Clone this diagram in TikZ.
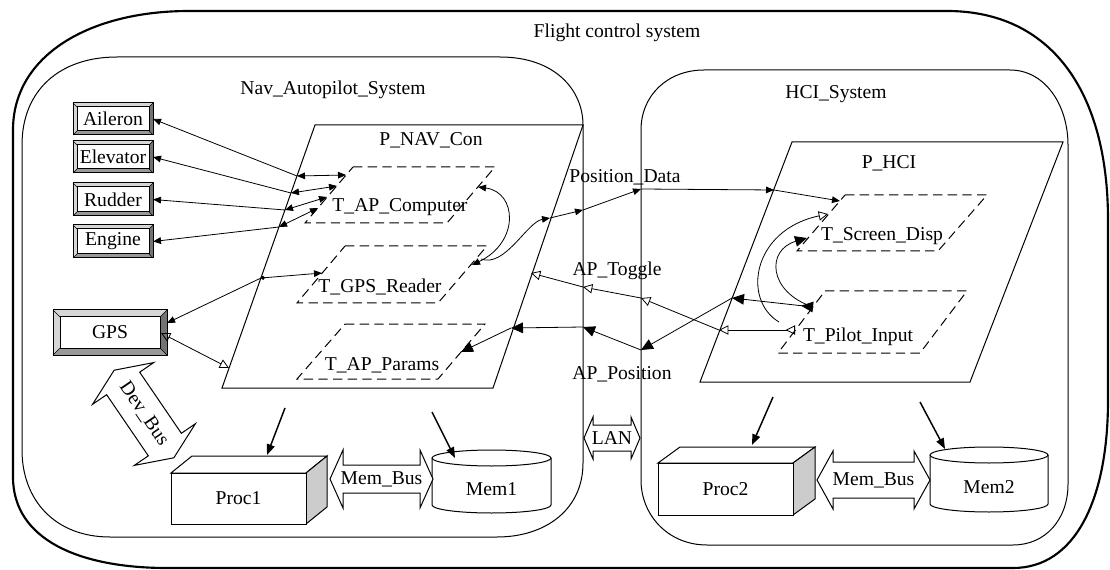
\documentclass[tikz,border=0pt]{standalone}
\usepackage{fontspec}
\setmainfont{Liberation Serif}
\newfontfamily\tnr{Liberation Serif}
\usetikzlibrary{arrows.meta}
\definecolor{devlight}{gray}{0.84}
\definecolor{devmid}{gray}{0.6}
\definecolor{devdark}{gray}{0.45}
\definecolor{procside}{gray}{0.8}
\tikzset{
  dtip/.tip={Triangle[length=6pt,width=5pt]},
  otip/.tip={Triangle[open,length=7pt,width=7pt]},
  btip/.tip={Triangle[length=9pt,width=8pt]},
  ptip/.tip={Triangle[length=8pt,width=6pt]},
}
% device (bevelled box)
\newcommand\devbox[7]{%
  \fill[devlight] (#2,#3) rectangle (#4,#5);
  \fill[devdark] (#4,#3) -- (#4,#5) -- (#4-#6,#5-#6) -- (#4-#6,#3+#6) -- cycle;
  \fill[devmid] (#2,#5) -- (#4,#5) -- (#4-#6,#5-#6) -- (#2+#6,#5-#6) -- cycle;
  \draw[boxline] (#2,#3) rectangle (#4,#5);
  \draw[boxline,fill=white] (#2+#6,#3+#6) rectangle (#4-#6,#5-#6);
  \draw[thinline] (#2,#3) -- (#2+#6,#3+#6) (#4,#3) -- (#4-#6,#3+#6)
                  (#2,#5) -- (#2+#6,#5-#6) (#4,#5) -- (#4-#6,#5-#6);
  \node[lbl,minimum width={(#4-#2)*0.75pt},minimum height={(#5-#3)*0.75pt}]
     (#1) at ({(#2+#4)/2},{(#3+#5)/2}) {#7};
}
% processor (3D box)
\newcommand\procbox[8]{%
  \draw[boxline,fill=white] (#2,#3) -- (#2+#6,#3-#7) -- (#4+#6,#3-#7) -- (#4,#3) -- cycle;
  \draw[boxline,fill=procside] (#4,#3) -- (#4+#6,#3-#7) -- (#4+#6,#5-#7) -- (#4,#5) -- cycle;
  \node[lbl,draw,boxline,fill=white,minimum width={(#4-#2)*0.75pt},minimum height={(#5-#3)*0.75pt}]
     (#1) at ({(#2+#4)/2},{(#3+#5)/2}) {#8};
}
% memory (cylinder)
\newcommand\memcyl[7]{%
  \draw[boxline,fill=white] (#2,#3) -- (#2,#5)
     arc[start angle=180,end angle=0,x radius={(#4-#2)/2},y radius=#6] -- (#4,#3);
  \draw[boxline,fill=white] ({(#2+#4)/2},#3) ellipse[x radius={(#4-#2)/2},y radius=#6];
  \node[lbl] (#1) at ({(#2+#4)/2},{(#3+#5)/2+#6}) {#7};
}
% bus (hollow double block arrow)
\newcommand\blockarrow[7]{%
  \draw[boxline,fill=white,shift={(#1,#2)},rotate=#3]
   ({-#4/2},0) -- ({-#4/2+#7},{-#5/2}) -- ({-#4/2+#7},{-#6/2}) -- ({#4/2-#7},{-#6/2})
   -- ({#4/2-#7},{-#5/2}) -- ({#4/2},0) -- ({#4/2-#7},{#5/2}) -- ({#4/2-#7},{#6/2})
   -- ({-#4/2+#7},{#6/2}) -- ({-#4/2+#7},{#5/2}) -- cycle;
}
\begin{document}
\begin{tikzpicture}[x=0.75pt,y=-0.75pt,
  lbl/.style={font=\tnr\fontsize{14.7}{17}\selectfont,inner sep=0pt,outer sep=0pt},
  boxline/.style={line width=0.75pt},
  thinline/.style={line width=0.5pt},
  outerline/.style={line width=1.6pt},
  taskbox/.style={line width=0.75pt,dash pattern=on 7pt off 4pt},
  conn/.style={line width=0.6pt},
  dataarr/.style={conn,-dtip},
  databoth/.style={conn,dtip-dtip},
  evarr/.style={conn,-otip},
  edarr/.style={conn,-btip},
  bindarr/.style={line width=1.1pt,-ptip},
]
\useasboundingbox (0,0) rectangle (1110,570);

% ---------- outer system ----------
\draw[outerline,fill=white] (189,11) -- (947,11) .. controls (1050,11) and (1108,90) .. (1108,220)
  -- (1108,400) .. controls (1108,500) and (1075,568) .. (1013,568) -- (167,568)
  .. controls (80,568) and (13,540) .. (13,477) -- (13,130)
  .. controls (13,55) and (90,11) .. (189,11) -- cycle;
\node[lbl] (fcs) at (617,33) {Flight control system};

% ---------- Nav_Autopilot_System ----------
\draw[boxline] (117,57) -- (500,57) .. controls (555,57) and (583,90) .. (583,125)
  -- (583,463) .. controls (583,510) and (545,537) .. (497,537) -- (110,537)
  .. controls (55,537) and (22,500) .. (22,450) -- (22,145)
  .. controls (22,90) and (60,57) .. (117,57) -- cycle;
\node[lbl] (navsys) at (333,90) {Nav\_Autopilot\_System};

% ---------- HCI_System ----------
\draw[boxline] (704,70) -- (1010,70) .. controls (1045,70) and (1068,105) .. (1068,145)
  -- (1068,484) .. controls (1068,520) and (1045,545) .. (1013,545) -- (707,545)
  .. controls (668,545) and (641,515) .. (641,480) -- (641,130)
  .. controls (641,95) and (668,70) .. (704,70) -- cycle;
\node[lbl] (hcisys) at (836,94) {HCI\_System};

% ---------- processes ----------
\draw[boxline,fill=white] (315,125) -- (583,125) -- (493,388) -- (222,388) -- cycle;
\node[lbl] (pnav) at (431,140) {P\_NAV\_Con};
\draw[boxline,fill=white] (792,142) -- (1063,142) -- (970,382) -- (700,382) -- cycle;
\node[lbl] (phci) at (889,163) {P\_HCI};

% ---------- threads ----------
\draw[taskbox] (353,167) -- (495,167) -- (447,223) -- (305,223) -- cycle;
\node[lbl] (tap) at (400,207) {T\_AP\_Computer};
\draw[taskbox] (345,246) -- (487,246) -- (438,303) -- (297,303) -- cycle;
\node[lbl] (tgps) at (380,287) {T\_GPS\_Reader};
\draw[taskbox] (345,324) -- (485,324) -- (438,379) -- (297,379) -- cycle;
\node[lbl] (tapp) at (382,365) {T\_AP\_Params};
\draw[taskbox] (845,195) -- (987,195) -- (938,251) -- (797,251) -- cycle;
\node[lbl] (tsd) at (882,236) {T\_Screen\_Disp};
\draw[taskbox] (825,291) -- (967,291) -- (920,353) -- (778,353) -- cycle;
\node[lbl] (tpi) at (858,337) {T\_Pilot\_Input};

% ---------- devices ----------
\devbox{ail}{73}{103}{153}{135}{4}{Aileron}
\devbox{elev}{73}{141}{153}{173}{4}{Elevator}
\devbox{rud}{73}{183}{153}{216}{4}{Rudder}
\devbox{eng}{73}{225}{153}{258}{4}{Engine}
\devbox{gps}{53}{310}{167}{355}{7}{GPS}

% ---------- hardware ----------
\procbox{proc1}{171}{473}{306}{524}{21}{17}{Proc1}
\procbox{proc2}{658}{463}{793}{515}{22}{16}{Proc2}
\memcyl{mem1}{432}{458}{551}{505}{8}{Mem1}
\memcyl{mem2}{930}{455}{1048}{504}{8}{Mem2}

% ---------- buses ----------
\blockarrow{144}{414}{-55.7}{106}{74}{40}{16}
\node[lbl,rotate=-55.7] (devbus) at (144,414) {Dev\_Bus};
\blockarrow{381.5}{479}{0}{103}{58}{28}{13}
\node[lbl] (membus1) at (381.5,479) {Mem\_Bus};
\blockarrow{873.5}{480}{0}{113}{58}{36}{16}
\node[lbl] (membus2) at (873.5,480) {Mem\_Bus};
\blockarrow{612}{438}{0}{56}{42}{26}{9}
\node[lbl] (lan) at (612,438) {LAN};

% ---------- ports ----------
\coordinate (pA) at (297,176);  \coordinate (tA) at (346,175);
\coordinate (pE) at (291,193);  \coordinate (tE) at (337,186);
\coordinate (pR) at (285,210);  \coordinate (tR) at (327,197);
\coordinate (pEn) at (279,227); \coordinate (tEn) at (318,208);
\coordinate (pG) at (261,278);  \coordinate (tGl) at (322,273);
\coordinate (pGe) at (229,368);
\coordinate (gpsA) at (167,323); \coordinate (gpsB) at (161,333);
\coordinate (tAr) at (478,187); \coordinate (tGr) at (472,265); \coordinate (tGr2) at (481,259);
\coordinate (pnR1) at (550,218); \coordinate (navR1) at (583,210);
\coordinate (hciL1) at (641,189); \coordinate (phL1) at (774,190); \coordinate (tSl1) at (840,201);
\coordinate (tPl1) at (795,330); \coordinate (phL2) at (719,330);
\coordinate (hciL2) at (641,298); \coordinate (navR2) at (583,287); \coordinate (pnR2) at (531,273);
\coordinate (tPl2) at (813,307); \coordinate (phL3) at (732,298);
\coordinate (hciL3) at (641,350); \coordinate (navR3) at (583,327);
\coordinate (pnR3) at (511,328); \coordinate (tPr) at (461,352);
\coordinate (tSl2) at (828,214); \coordinate (tPl3) at (779,322); \coordinate (tSl3) at (807,238);

% ---------- connections: actuators ----------
\draw[databoth] (tA) -- (pA);   \draw[dataarr] (pA) -- (ail.east);
\draw[databoth] (tE) -- (pE);   \draw[dataarr] (pE) -- (elev.east);
\draw[databoth] (tR) -- (pR);   \draw[dataarr] (pR) -- (rud.east);
\draw[databoth] (tEn) -- (pEn); \draw[dataarr] (pEn) -- (eng.east);

% GPS
\draw[conn,{Circle[length=3pt]}-dtip] (pG) -- (tGl);
\draw[dataarr] (pG) -- (gpsA);
\draw[conn,otip-otip] (gpsB) -- (pGe);

% internal NAV
\draw[databoth] (tAr) .. controls (517,192) and (520,242) .. (tGr);

% Position_Data
\draw[dataarr] (tGr2) .. controls (505,268) and (527,222) .. (pnR1);
\draw[dataarr] (pnR1) -- (navR1);
\draw[dataarr] (navR1) -- (hciL1);
\draw[dataarr] (hciL1) -- (phL1);
\draw[dataarr] (phL1) -- (tSl1);
\node[lbl] (posdata) at (625,177) {Position\_Data};

% AP_Toggle
\draw[conn,{Triangle[open,reversed,length=7pt,width=7pt]}-otip] (tPl1) -- (phL2);
\draw[evarr] (phL2) -- (hciL2);
\draw[evarr] (hciL2) -- (navR2);
\draw[evarr] (navR2) -- (pnR2);
\node[lbl] (aptoggle) at (617,271) {AP\_Toggle};

% AP_Position
\draw[conn,{Triangle[reversed,length=9pt,width=8pt]}-btip] (tPl2) -- (phL3);
\draw[edarr] (phL3) -- (hciL3);
\draw[edarr] (hciL3) -- (navR3);
\draw[edarr] (navR3) -- (pnR3);
\draw[edarr] (pnR3) -- (tPr);
\node[lbl] (apposition) at (622,374) {AP\_Position};

% internal HCI
\draw[conn,otip-] (tSl2) .. controls (752,230) and (742,300) .. (tPl3);
\draw[conn,-btip] (tPl2) .. controls (768,292) and (766,250) .. (tSl3);

% ---------- bindings ----------
\coordinate (b1s) at (285,408); \coordinate (b1e) at (267,455);
\coordinate (b2s) at (432,412); \coordinate (b2e) at (455,458);
\coordinate (b3s) at (773,397); \coordinate (b3e) at (752,445);
\coordinate (b4s) at (920,402); \coordinate (b4e) at (945,449);
\draw[bindarr] (b1s) -- (b1e);
\draw[bindarr] (b2s) -- (b2e);
\draw[bindarr] (b3s) -- (b3e);
\draw[bindarr] (b4s) -- (b4e);
\end{tikzpicture}
\end{document}
